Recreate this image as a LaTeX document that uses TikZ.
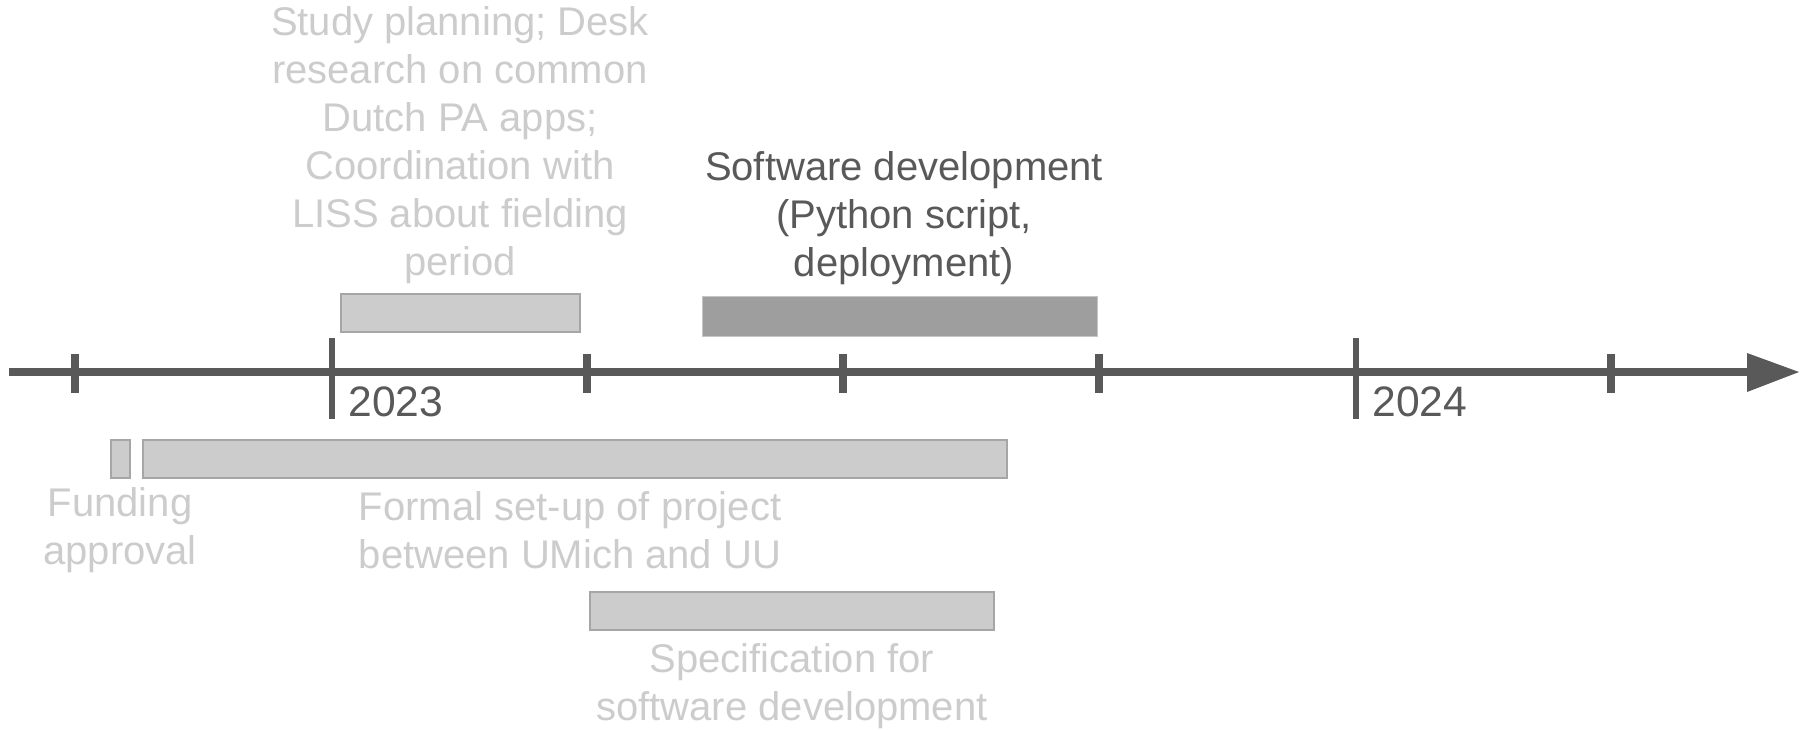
\documentclass[tikz,border=0pt]{standalone}
\usepackage{fontspec}
\setmainfont{Liberation Sans}
\definecolor{axisgray}{HTML}{595959}
\definecolor{pale}{HTML}{CCCCCC}
\definecolor{paleedge}{HTML}{A6A6A6}
\definecolor{midgray}{HTML}{9E9E9E}
\tikzset{
  label/.style={align=center, inner sep=0pt, font=\fontsize{20}{24}\selectfont},
  faded/.style={label, text=pale},
  strong/.style={label, text=axisgray},
  yearlabel/.style={inner sep=0pt, text=axisgray, anchor=west, font=\fontsize{21.3}{25}\selectfont},
  lightbar/.style={fill=pale, draw=paleedge, line width=1pt},
  darkbar/.style={fill=midgray, draw=midgray!60!white, line width=0.4pt},
  tickmark/.style={draw=axisgray, line width=4pt},
  yeartick/.style={draw=axisgray, line width=3.4pt},
}
\begin{document}
\begin{tikzpicture}[x=0.5pt, y=-0.5pt]
  \useasboundingbox (0,0) rectangle (1808,729);

  % time axis with arrow head
  \coordinate (axstart) at (9,372);
  \coordinate (axend) at (1750,372);
  \draw[axisgray, line width=4.4pt] (axstart) -- (axend);
  \fill[axisgray] (1747,353) -- (1799,372) -- (1747,392) -- cycle;

  % quarter ticks
  \foreach \t in {75,587,843,1099,1611}
    \draw[tickmark] (\t,354) -- (\t,393);
  % year ticks
  \foreach \t in {332,1356}
    \draw[yeartick] (\t,338) -- (\t,419);
  \node[yearlabel] (y2023) at (348,402) {2023};
  \node[yearlabel] (y2024) at (1372,402) {2024};

  % activity bars above the axis
  \draw[lightbar] (341,294) rectangle (580,332);
  \draw[darkbar] (702,296) rectangle (1097,336);

  % activity bars below the axis
  \draw[lightbar] (111,440) rectangle (130,478);
  \draw[lightbar] (143,440) rectangle (1007,478);
  \draw[lightbar] (590,592) rectangle (994,630);

  % activity labels
  \node[faded] (study) at (460,145.5) {Study planning; Desk\\research on common\\Dutch PA apps;\\Coordination with\\LISS about fielding\\period};
  \node[strong] (software) at (904,218.5) {Software development\\(Python script,\\deployment)};
  \node[faded] (funding) at (120,530.5) {Funding\\approval};
  \node[faded] (formal) at (570,530.5) {Formal set-up of project\\between UMich and UU};
  \node[faded] (spec) at (792,686.5) {Specification for\\software development};
\end{tikzpicture}
\end{document}
